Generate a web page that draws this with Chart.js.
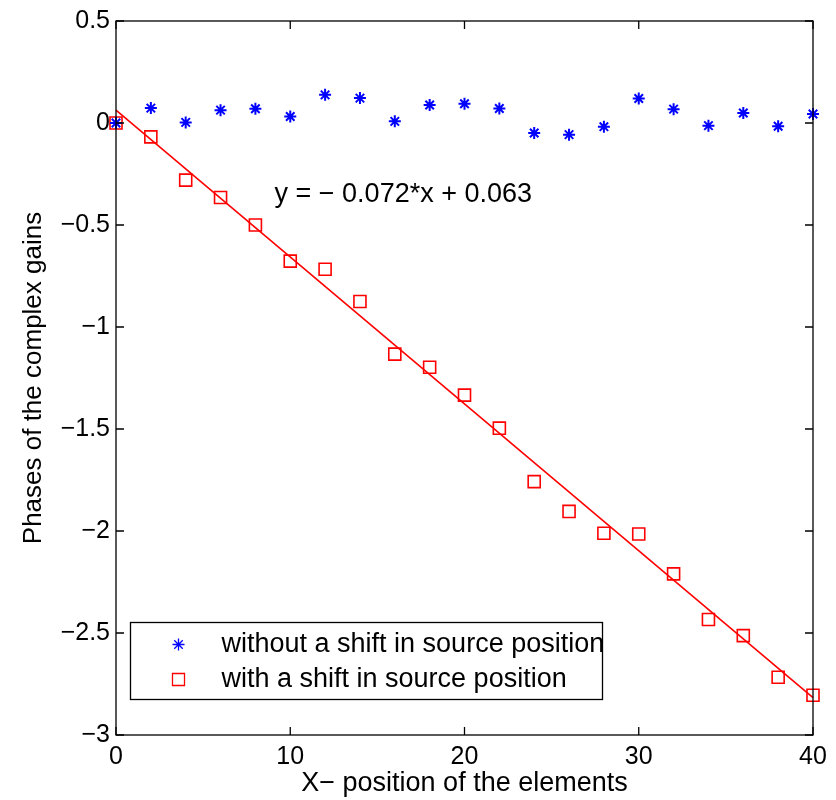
<!DOCTYPE html>
<html>
<head>
<meta charset="utf-8">
<script src="https://cdn.jsdelivr.net/npm/chart.js@4.4.1/dist/chart.umd.min.js"></script>
<style>
  html, body { margin: 0; padding: 0; background: #fff; }
  canvas { display: block; }
</style>
</head>
<body>
<canvas id="phaseChart" width="836" height="800"></canvas>
<script>
// element positions along the array
const positions = [0, 2, 4, 6, 8, 10, 12, 14, 16, 18, 20, 22, 24, 26, 28, 30, 32, 34, 36, 38, 40];

// phases
const phasesNoShift = [0, 0.073, 0.003, 0.063, 0.07, 0.032, 0.138, 0.122, 0.008, 0.088, 0.094,
    0.071, -0.049, -0.057, -0.018, 0.12, 0.068, -0.013, 0.049, -0.016, 0.044];
const phasesShift = [0, -0.068, -0.28, -0.365, -0.5, -0.677, -0.717, -0.875, -1.133, -1.197, -1.334,
    -1.496, -1.758, -1.904, -2.011, -2.015, -2.21, -2.434, -2.513, -2.717, -2.805];

// linear fit y = -0.072*x + 0.063, end points
const fitX = [0, 40];
const fitY = [0.063, -2.817];
const fitLabel = 'y = \u2212 0.072*x + 0.063';

const seriesLabels = ['without a shift in source position', 'with a shift in source position'];
const xTicks = [0, 10, 20, 30, 40];
const yTicks = [0.5, 0, -0.5, -1, -1.5, -2, -2.5, -3];

const FONT = '"Liberation Sans", Arial, Helvetica, sans-serif';

function toPoints(xs, ys) {
    return xs.map((x, i) => ({ x: x, y: ys[i] }));
}

function fmtTick(v) {
    return v < 0 ? '\u2212' + Math.abs(v) : String(v);
}

// box, inward ticks on all four sides
const framePlugin = {
    id: 'frame',
    afterDraw(chart) {
        const ctx = chart.ctx;
        const a = chart.chartArea;
        const xs = chart.scales.x, ys = chart.scales.y;
        const tl = 8;
        ctx.save();
        ctx.strokeStyle = '#000';
        ctx.lineWidth = 1.3;
        ctx.strokeRect(a.left, a.top, a.right - a.left, a.bottom - a.top);
        ctx.beginPath();
        xTicks.forEach(v => {
            const px = xs.getPixelForValue(v);
            ctx.moveTo(px, a.bottom); ctx.lineTo(px, a.bottom - tl);
            ctx.moveTo(px, a.top); ctx.lineTo(px, a.top + tl);
        });
        yTicks.forEach(v => {
            const py = ys.getPixelForValue(v);
            ctx.moveTo(a.left, py); ctx.lineTo(a.left + tl, py);
            ctx.moveTo(a.right, py); ctx.lineTo(a.right - tl, py);
        });
        ctx.stroke();
        ctx.restore();
    }
};

// fit equation text and legend box
const overlayPlugin = {
    id: 'overlay',
    afterDraw(chart) {
        const ctx = chart.ctx;
        const a = chart.chartArea;
        const xs = chart.scales.x, ys = chart.scales.y;
        ctx.save();
        ctx.fillStyle = '#000';
        ctx.font = '27px ' + FONT;
        ctx.textAlign = 'left';
        ctx.textBaseline = 'middle';
        ctx.fillText(fitLabel, xs.getPixelForValue(9.1), ys.getPixelForValue(-0.35));

        // legend
        const lx = a.left + 14.5, ly = a.bottom - 112.5, lw = 472, lh = 77;
        ctx.fillStyle = '#fff';
        ctx.fillRect(lx, ly, lw, lh);
        ctx.strokeStyle = '#000';
        ctx.lineWidth = 1.3;
        ctx.strokeRect(lx, ly, lw, lh);
        const rows = [ly + 22, ly + 57];
        chart.data.datasets.slice(0, 2).forEach((ds, i) => {
            ctx.strokeStyle = ds.borderColor;
            ctx.fillStyle = 'rgba(0,0,0,0)';
            Chart.helpers.drawPoint(ctx, {
                pointStyle: ds.pointStyle,
                radius: ds.pointRadius,
                borderWidth: ds.borderWidth,
                rotation: 0
            }, lx + 48, rows[i]);
            ctx.fillStyle = '#000';
            ctx.fillText(ds.label, lx + 91, rows[i]);
        });
        ctx.restore();
    }
};

const ctx = document.getElementById('phaseChart').getContext('2d');
new Chart(ctx, {
    type: 'scatter',
    data: {
        datasets: [
            {
                label: seriesLabels[0],
                data: toPoints(positions, phasesNoShift),
                pointStyle: 'star',
                pointRadius: 6,
                borderWidth: 2,
                borderColor: '#0000ff',
                backgroundColor: '#0000ff',
                clip: false
            },
            {
                label: seriesLabels[1],
                data: toPoints(positions, phasesShift),
                pointStyle: 'rect',
                pointRadius: 8.5,
                borderWidth: 1.6,
                borderColor: '#ff0000',
                backgroundColor: 'rgba(0,0,0,0)',
                clip: false
            },
            {
                label: 'fit',
                data: toPoints(fitX, fitY),
                showLine: true,
                pointRadius: 0,
                borderWidth: 1.6,
                borderColor: '#ff0000',
                backgroundColor: '#ff0000',
                clip: false
            }
        ]
    },
    options: {
        responsive: false,
        animation: false,
        events: [],
        layout: { padding: { top: 15, right: 23, left: 0, bottom: 0 } },
        plugins: {
            legend: { display: false },
            tooltip: { enabled: false }
        },
        scales: {
            x: {
                type: 'linear',
                min: 0,
                max: 40,
                afterFit(scale) { scale.height = 65; },
                afterBuildTicks(scale) { scale.ticks = xTicks.map(v => ({ value: v })); },
                grid: { display: false, drawTicks: false },
                border: { display: false },
                ticks: {
                    color: '#000',
                    font: { family: FONT, size: 25 },
                    padding: 7,
                    maxRotation: 0,
                    callback: fmtTick
                },
                title: {
                    display: true,
                    text: 'X\u2212 position of the elements',
                    color: '#000',
                    font: { family: FONT, size: 27 },
                    padding: { top: 0, bottom: 0 }
                }
            },
            y: {
                type: 'linear',
                min: -3,
                max: 0.5,
                afterFit(scale) { scale.width = 116; },
                afterBuildTicks(scale) { scale.ticks = yTicks.map(v => ({ value: v })); },
                grid: { display: false, drawTicks: false },
                border: { display: false },
                ticks: {
                    color: '#000',
                    font: { family: FONT, size: 25 },
                    padding: 6,
                    callback: fmtTick
                },
                title: {
                    display: true,
                    text: 'Phases of the complex gains',
                    color: '#000',
                    font: { family: FONT, size: 26 },
                    padding: { top: 18, bottom: 0 }
                }
            }
        }
    },
    plugins: [framePlugin, overlayPlugin]
});
</script>
</body>
</html>
